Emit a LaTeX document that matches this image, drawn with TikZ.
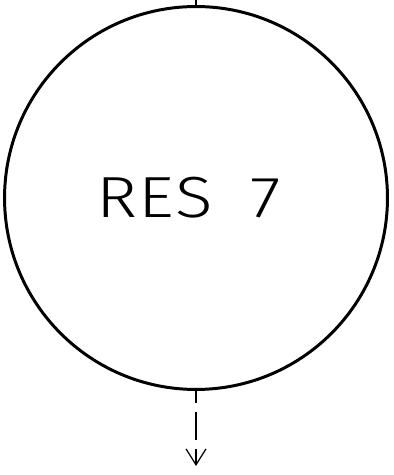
\documentclass[tikz,border=0pt]{standalone}
\usepackage{fontspec}
\setmainfont{Fira Sans}[UprightFont={* Light}, FakeStretch=1.2, LetterSpace=3]
\usepackage{tikz}
\usetikzlibrary{arrows.meta, positioning, calc}

\begin{document}
\begin{tikzpicture}[x=0.02cm, y=-0.02cm]
    \useasboundingbox (0,0) rectangle (393,475);

    % Reservoir
    \node[draw, circle, line width=1.7pt, minimum size=7.66cm, inner sep=0pt] (res) at (196,198) {};
    \node[font=\fontsize{33}{36}\selectfont, inner sep=0pt] (lbl) at (188.5,198) {RES\hspace{0.75cm}7};

    % Inflow and outflow
    \coordinate (inflow) at (196,0);
    \coordinate (outflow) at (196,466);
    \draw[line width=0.7pt] (inflow) -- (res.north);
    \draw[line width=0.7pt, dash pattern=on 0.56cm off 0.18cm, dash phase=0.32cm,
          -{Straight Barb[length=0.32cm, width=0.4cm]}] (res.south) -- (outflow);
\end{tikzpicture}
\end{document}
